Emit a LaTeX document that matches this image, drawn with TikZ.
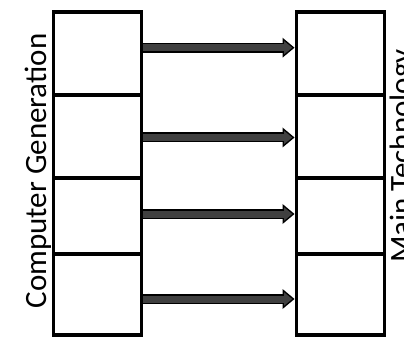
\documentclass[tikz,border=0pt]{standalone}
\usepackage{fontspec}
\setmainfont{Carlito}
\usetikzlibrary{arrows.meta}
\tikzset{%
    cell/.style={draw, line width=3.2pt, minimum width=88pt, inner sep=0pt, outer sep=0pt},
    pipeout/.style={line width=10pt, black, shorten >=2pt,
        -{Triangle[length=12pt, width=20pt, line width=0pt]}},
    pipein/.style={line width=7pt, black!75, shorten <=1.6pt, shorten >=4.3pt,
        -{Triangle[length=8.2pt, width=13.6pt, line width=0pt]}},
    caption/.style={rotate=90, anchor=base, inner sep=0pt, font=\fontsize{31}{37}\selectfont}
}

\begin{document}
\begin{tikzpicture}[x=1pt, y=-1pt]
	\useasboundingbox[fill=white] (0,0) rectangle (404,339);
	\node[cell, minimum height=83pt] (gen1) at (97.5,53.5) {};
	\node[cell, minimum height=83pt] (gen2) at (97.5,136.5) {};
	\node[cell, minimum height=76pt] (gen3) at (97.5,216) {};
	\node[cell, minimum height=81pt] (gen4) at (97.5,294.5) {};
	\node[cell, minimum height=83pt] (tech1) at (340.5,53.5) {};
	\node[cell, minimum height=83pt] (tech2) at (340.5,136.5) {};
	\node[cell, minimum height=76pt] (tech3) at (340.5,216) {};
	\node[cell, minimum height=81pt] (tech4) at (340.5,294.5) {};
	\foreach \i/\dy in {1/5.8, 2/-1, 3/2, 4/-4.5} {
		\draw[pipeout] ([yshift=\dy pt]gen\i.east) -- ([yshift=\dy pt]tech\i.west);
		\draw[pipein] ([yshift=\dy pt]gen\i.east) -- ([yshift=\dy pt]tech\i.west);
	}
	\node[caption] (genlabel) at (46.5,171) {Computer Generation};
	\node[caption] (techlabel) at (411,156) {Main Technology};
\end{tikzpicture}
\end{document}
